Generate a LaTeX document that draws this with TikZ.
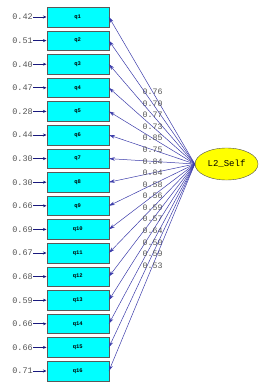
\documentclass[tikz,border=0pt]{standalone}
\usepackage{fontspec}
\setmonofont{Liberation Mono}
\usepackage{xcolor}
\usetikzlibrary{arrows.meta, positioning, calc, shapes.geometric}
\definecolor{pathblue}{RGB}{60,60,170}
\definecolor{errblue}{RGB}{25,25,125}
\definecolor{numgray}{RGB}{85,85,85}
\definecolor{boxcyan}{RGB}{0,255,255}
\definecolor{latyellow}{RGB}{255,255,0}

\begin{document}
\begin{tikzpicture}[x=1pt, y=-1pt,
    obs/.style={rectangle, draw=gray!70!black, fill=boxcyan, minimum width=62pt, minimum height=19.5pt,
        inner sep=0pt, font=\ttfamily\bfseries\fontsize{5.5}{6}\selectfont},
    lat/.style={ellipse, draw=gray!60!black, fill=latyellow, minimum width=63pt, minimum height=32pt,
        inner sep=0pt, font=\ttfamily\fontsize{9}{10}\selectfont},
    err/.style={anchor=east, inner sep=0pt, text=numgray, font=\ttfamily\fontsize{8.5}{10}\selectfont},
    load/.style={inner sep=0.5pt, pos=0.49, text=numgray, font=\ttfamily\fontsize{8.3}{9}\selectfont}]
    \useasboundingbox (0,0) rectangle (260,385);
    \node[lat] (L2) at (226.5,164) {L2\_Self};
    \foreach \i/\e/\l in {1/0.42/0.76, 2/0.51/0.70, 3/0.40/0.77, 4/0.47/0.73,
        5/0.28/0.85, 6/0.44/0.75, 7/0.30/0.84, 8/0.30/0.84,
        9/0.66/0.58, 10/0.69/0.56, 11/0.67/0.59, 12/0.68/0.57,
        13/0.59/0.64, 14/0.66/0.50, 15/0.66/0.59, 16/0.71/0.53} {
        \node[obs] (q\i) at (77.7, {17+(\i-1)*23.6}) {q\i};
        \node[err] (e\i) at ($(q\i.west)+(-13.5,0)$) {\e};
        \draw[-{Stealth[length=3.5pt, width=3pt]}, errblue, line width=0.8pt] (e\i.east) -- (q\i.west);
        \draw[-{Stealth[length=6pt, width=3.5pt]}, pathblue, line width=0.5pt] (L2.west) -- node[load] {\l} (q\i.east);
    }
\end{tikzpicture}
\end{document}
